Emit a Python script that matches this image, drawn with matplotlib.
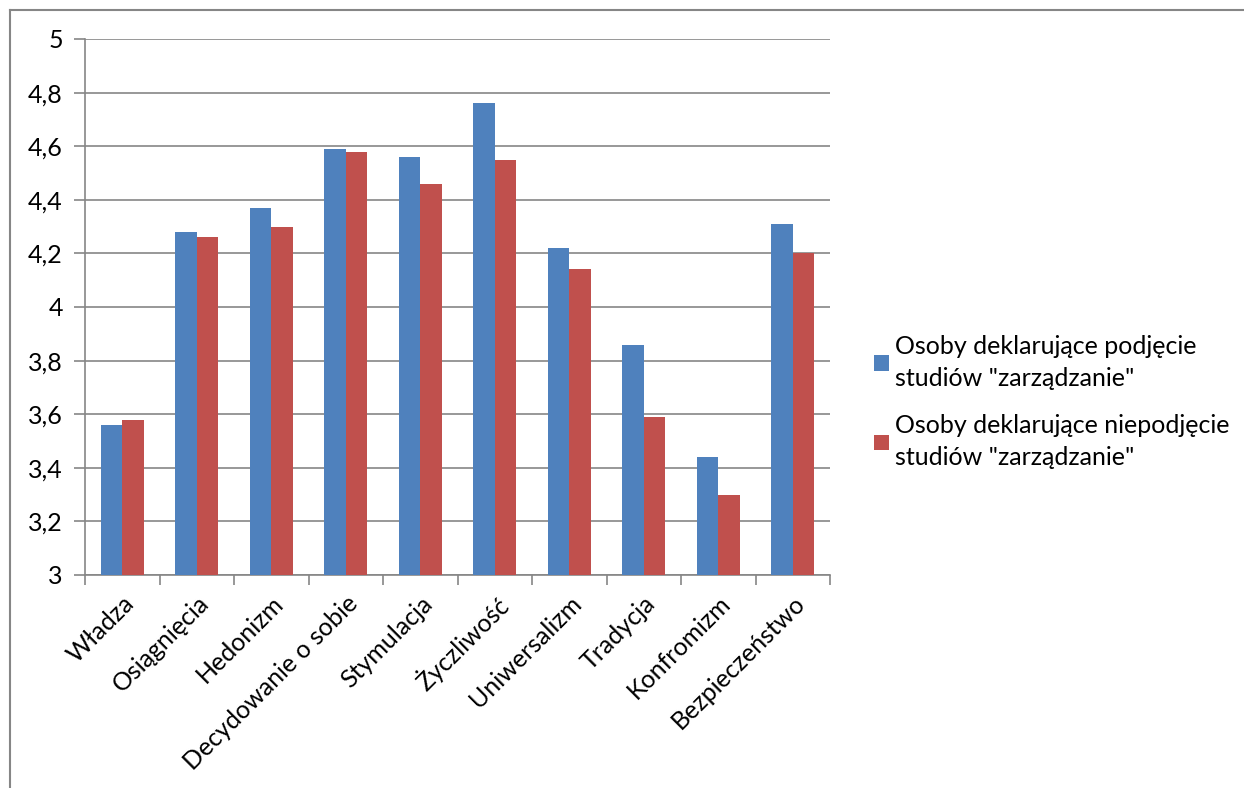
import numpy as np
import matplotlib.pyplot as plt
from matplotlib.lines import Line2D

categories = ["Władza", "Osiągnięcia", "Hedonizm", "Decydowanie o sobie", "Stymulacja",
              "Życzliwość", "Uniwersalizm", "Tradycja", "Konfromizm", "Bezpieczeństwo"]
zarzadzanie = [3.56, 4.28, 4.37, 4.59, 4.56, 4.76, 4.22, 3.86, 3.44, 4.31]
niezarzadzanie = [3.58, 4.26, 4.30, 4.58, 4.46, 4.55, 4.14, 3.59, 3.30, 4.20]
series_names = ['Osoby deklarujące podjęcie\nstudiów "zarządzanie"',
                'Osoby deklarujące niepodjęcie\nstudiów "zarządzanie"']
yticks = [3, 3.2, 3.4, 3.6, 3.8, 4, 4.2, 4.4, 4.6, 4.8, 5]

plt.rcParams['font.family'] = ['Lato', 'DejaVu Sans']
grid_col = '#868686'

fig = plt.figure(figsize=(12.44, 7.88), dpi=100)
ax = fig.add_axes([85 / 1244, 1 - 575 / 788, 745 / 1244, 536 / 788])

x = np.arange(len(categories))
w = 1 / 3.5
b1 = ax.bar(x - w / 2, zarzadzanie, w, color='#4F81BD', label=series_names[0], zorder=3)
b2 = ax.bar(x + w / 2, niezarzadzanie, w, color='#C0504D', label=series_names[1], zorder=3)

ax.set_ylim(3, 5)
ax.set_xlim(-0.5, len(categories) - 0.5)
ax.set_yticks(yticks)
ax.set_yticklabels([f"{v:g}".replace('.', ',') for v in yticks], fontsize=18)
ax.yaxis.grid(True, color=grid_col, linewidth=1.2, zorder=0)
ax.set_axisbelow(True)

ax.set_xticks(x)
ax.set_xticklabels(categories, rotation=45, ha='right', rotation_mode='anchor', fontsize=18)
ax.set_xticks(np.arange(len(categories) + 1) - 0.5, minor=True)
ax.tick_params(axis='x', which='major', length=0, pad=12)
ax.tick_params(axis='x', which='minor', length=7, color=grid_col, width=1.2, direction='out')
ax.tick_params(axis='y', length=8, color=grid_col, width=1.2, direction='out', pad=8)

for s in ['top', 'right']:
    ax.spines[s].set_visible(False)
for s in ['left', 'bottom']:
    ax.spines[s].set_color(grid_col)
    ax.spines[s].set_linewidth(1.2)

leg = fig.legend(handles=[b1, b2], loc='center left', bbox_to_anchor=(851 / 1244, 1 - 402 / 788),
                 frameon=False, fontsize=18, handlelength=0.6, handleheight=0.6,
                 handletextpad=0.25, labelspacing=1.0)
for t in leg.get_texts():
    t.set_linespacing(1.45)

# outer chart border (top and left edges visible)
fig.add_artist(Line2D([9.5 / 1244, 1], [1 - 9.5 / 788, 1 - 9.5 / 788], color=grid_col, lw=1.5))
fig.add_artist(Line2D([9.5 / 1244, 9.5 / 1244], [0, 1 - 9.5 / 788], color=grid_col, lw=1.5))

fig.savefig('out.png', dpi=100)
